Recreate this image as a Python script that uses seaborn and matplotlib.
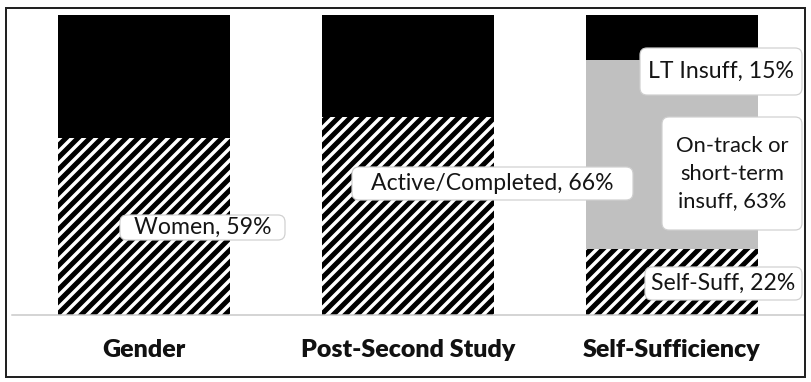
import numpy as np
import pandas as pd
import matplotlib
matplotlib.use('Agg')
import matplotlib.pyplot as plt
import seaborn as sns
from matplotlib.patches import Rectangle, FancyBboxPatch
from matplotlib.transforms import IdentityTransform

# Data (shares of each group)
categories = ['Gender', 'Post-Second Study', 'Self-Sufficiency']
hatched_share = [0.59, 0.66, 0.22]   # Women / Active-Completed / Self-Suff
gray_share = [0.0, 0.0, 0.63]        # On-track or short-term insuff
black_share = [0.41, 0.34, 0.15]     # rest / LT Insuff

labels = ['Women, 59%', 'Active/Completed, 66%', 'LT Insuff, 15%',
          'On-track or\nshort-term\ninsuff, 63%', 'Self-Suff, 22%']
# label boxes in image pixels: left, top, right, bottom
label_boxes = [(120, 215, 285, 240), (352, 167, 633, 200), (640, 48, 802, 95),
               (662, 117, 802, 230), (645, 267, 802, 300)]

W, H = 811, 382

sns.set_theme(style='white')
plt.rcParams['hatch.linewidth'] = 5
plt.rcParams['hatch.color'] = 'black'

df = pd.DataFrame({'cat': categories,
                   'bottom': hatched_share,
                   'mid': np.array(hatched_share) + np.array(gray_share),
                   'top': np.array(hatched_share) + np.array(gray_share) + np.array(black_share)})

dpi = 72
fig = plt.figure(figsize=(W / dpi, H / dpi), dpi=dpi)
ax = fig.add_axes([12 / W, 67 / H, 792 / W, 300 / H])

layers = [('top', 'black', None), ('mid', '#c0c0c0', None), ('bottom', 'white', '//')]
for col, color, hatch in layers:
    n_before = len(ax.patches)
    sns.barplot(data=df, x='cat', y=col, color=color, width=0.65, ax=ax,
                saturation=1, linewidth=0)
    for p in ax.patches[n_before:]:
        p.set_facecolor(color)
        if hatch:
            p.set_hatch(hatch)
            p.set_edgecolor('black')
            p.set_linewidth(0)

ax.set_xlim(-0.5, 2.5)
ax.set_ylim(0, 1)
ax.set_xlabel('')
ax.set_ylabel('')
ax.set_yticks([])
for s in ['top', 'left', 'right']:
    ax.spines[s].set_visible(False)
ax.spines['bottom'].set_color('#c8c8c8')
ax.spines['bottom'].set_linewidth(1.5)
ax.tick_params(axis='x', length=0, pad=24)
for t in ax.get_xticklabels():
    t.set_fontfamily(['Lato', 'DejaVu Sans'])
    t.set_fontweight('heavy')
    t.set_fontsize(25)
    t.set_color('#111111')

# label boxes drawn in pixel space
for txt, (l, t, r, b) in zip(labels, label_boxes):
    box = FancyBboxPatch((l, H - b), r - l, b - t,
                         boxstyle='round,pad=0,rounding_size=7',
                         transform=IdentityTransform(), fc='white',
                         ec='#cfcfcf', lw=1.2, zorder=5)
    fig.patches.append(box)
    fig.text((l + r) / 2 / W, (H - (t + b) / 2) / H, txt, ha='center', va='center',
             fontsize=23 if '\n' not in txt else 22, color='#151515',
             family=['Lato', 'DejaVu Sans'], linespacing=1.45, zorder=6)

fig.patches.append(Rectangle((6 / W, 5 / H), 799 / W, 369 / H,
                             transform=fig.transFigure, fill=False,
                             ec='#222222', lw=2))

fig.savefig('out.png', dpi=dpi)
